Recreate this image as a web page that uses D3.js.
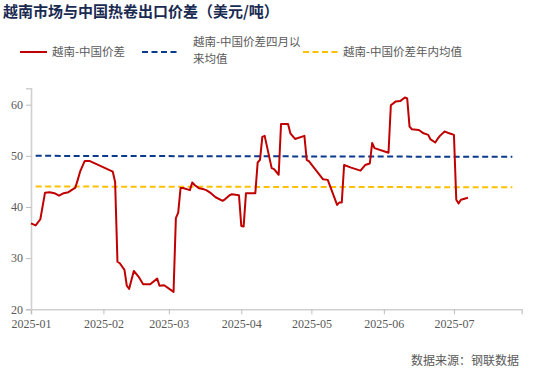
<!DOCTYPE html>
<html>
<head>
<meta charset="utf-8">
<script src="https://cdn.jsdelivr.net/npm/d3@7"></script>
<style>
    body { margin: 0; background: #fff; }
    svg { display: block; }
</style>
</head>
<body>
<div id="chart"></div>
<script>
// Vietnam - China HRC export price spread (USD/t)
const dates = [
    '2025-01-01', '2025-01-03', '2025-01-05', '2025-01-07', '2025-01-09', '2025-01-11',
    '2025-01-13', '2025-01-15', '2025-01-17', '2025-01-20', '2025-01-21', '2025-01-22',
    '2025-01-24', '2025-01-26', '2025-02-05', '2025-02-06', '2025-02-07', '2025-02-08',
    '2025-02-10', '2025-02-11', '2025-02-12', '2025-02-14', '2025-02-16', '2025-02-18',
    '2025-02-21', '2025-02-24', '2025-02-25', '2025-02-27', '2025-03-03', '2025-03-04',
    '2025-03-05', '2025-03-06', '2025-03-07', '2025-03-10', '2025-03-11', '2025-03-12',
    '2025-03-14', '2025-03-16', '2025-03-17', '2025-03-19', '2025-03-21', '2025-03-24',
    '2025-03-25', '2025-03-27', '2025-03-28', '2025-03-31', '2025-04-01', '2025-04-02',
    '2025-04-03', '2025-04-07', '2025-04-08', '2025-04-09', '2025-04-10', '2025-04-11',
    '2025-04-14', '2025-04-15', '2025-04-17', '2025-04-18', '2025-04-21', '2025-04-22',
    '2025-04-24', '2025-04-28', '2025-04-29', '2025-04-30', '2025-05-06', '2025-05-08',
    '2025-05-12', '2025-05-13', '2025-05-14', '2025-05-15', '2025-05-18', '2025-05-22',
    '2025-05-24', '2025-05-26', '2025-05-27', '2025-05-28', '2025-06-03', '2025-06-04',
    '2025-06-06', '2025-06-08', '2025-06-10', '2025-06-11', '2025-06-12', '2025-06-13',
    '2025-06-16', '2025-06-18', '2025-06-20', '2025-06-21', '2025-06-23', '2025-06-24',
    '2025-06-25', '2025-06-27', '2025-06-29', '2025-07-01', '2025-07-02', '2025-07-03',
    '2025-07-04', '2025-07-07'
];
const spread = [
    36.8, 36.4, 37.6, 42.8, 42.9, 42.7,
    42.2, 42.7, 42.9, 43.8, 45.3, 46.9,
    49.0, 49.0, 46.9, 44.9, 29.3, 29.0,
    27.7, 24.6, 24.0, 27.5, 26.4, 24.9,
    24.9, 26.0, 24.6, 24.7, 23.4, 37.8,
    38.9, 43.7, 43.7, 43.3, 44.8, 44.3,
    43.65, 43.45, 43.3, 42.7, 41.9, 41.2,
    41.5, 42.3, 42.5, 42.3, 36.3, 36.2,
    42.7, 42.7, 48.7, 49.2, 53.7, 53.9,
    47.6, 47.4, 46.3, 56.2, 56.2, 54.4,
    53.3, 53.9, 49.2, 48.9, 45.4, 45.3,
    40.4, 40.9, 40.9, 48.2, 47.7, 47.1,
    48.2, 48.5, 52.5, 51.5, 50.6, 59.9,
    60.6, 60.7, 61.4, 61.2, 55.7, 55.2,
    55.05, 54.4, 54.1, 53.2, 52.6, 53.3,
    53.9, 54.75, 54.4, 54.1, 41.4, 40.7,
    41.4, 41.8
];

// reference lines: mean since April, mean of the year
const meanDates = ['2025-01-03', '2025-07-26'];
const aprilMean = [50.0, 49.8];
const yearMean = [44.0, 43.85];

const yTicks = [20, 30, 40, 50, 60];
const xTickMonths = ['2025-01', '2025-02', '2025-03', '2025-04', '2025-05', '2025-06', '2025-07'];

const seriesNames = ['越南-中国价差', '越南-中国价差四月以来均值', '越南-中国价差年内均值'];

const width = 550, height = 370;
const parseDay = d3.timeParse('%Y-%m-%d');
const parseMonth = d3.timeParse('%Y-%m');

const svg = d3.select('#chart')
    .append('svg')
    .attr('width', width)
    .attr('height', height);

// Scales
const x = d3.scaleTime()
    .domain([parseDay('2025-01-01'), parseDay('2025-07-30')])
    .range([31, 521.7]);
const y = d3.scaleLinear()
    .domain([20, 63.2])
    .range([309.3, 88.3]);

// Title
svg.append('text')
    .attr('x', 3)
    .attr('y', 17)
    .style('font-family', '"Noto Sans CJK SC", sans-serif')
    .style('font-size', '15px')
    .style('font-weight', 'bold')
    .style('fill', '#1a2b52')
    .text('越南市场与中国热卷出口价差（美元/吨）');

// Axes
const axisColor = '#d0d0d0';
const tickColor = '#595959';

const xAxis = svg.append('g')
    .attr('transform', `translate(0,${y(20)})`)
    .call(d3.axisBottom(x)
        .tickValues(xTickMonths.map(parseMonth))
        .tickFormat(d3.timeFormat('%Y-%m'))
        .tickSizeOuter(0)
        .tickSize(5));

const yAxis = svg.append('g')
    .attr('transform', `translate(${x.range()[0]},0)`)
    .call(d3.axisLeft(y)
        .tickValues(yTicks)
        .tickSizeOuter(0)
        .tickSize(5));

[xAxis, yAxis].forEach(a => {
    a.select('.domain').attr('stroke', axisColor).attr('stroke-width', 1.6);
    a.selectAll('.tick line').attr('stroke', '#bdbdbd');
    a.selectAll('.tick text')
        .style('font-family', '"Liberation Serif", serif')
        .style('font-size', '12px')
        .style('fill', tickColor);
});
xAxis.selectAll('.tick text').attr('dy', '0.9em');
yAxis.selectAll('.tick text').attr('x', -8);

// Mean lines
const line = d3.line()
    .x(d => x(d[0]))
    .y(d => y(d[1]));

svg.append('path')
    .datum(meanDates.map((d, i) => [parseDay(d), aprilMean[i]]))
    .attr('d', line)
    .attr('fill', 'none')
    .attr('stroke', '#0a3a8c')
    .attr('stroke-width', 2)
    .attr('stroke-dasharray', '6,3.5');

svg.append('path')
    .datum(meanDates.map((d, i) => [parseDay(d), yearMean[i]]))
    .attr('d', line)
    .attr('fill', 'none')
    .attr('stroke', '#ffc000')
    .attr('stroke-width', 2)
    .attr('stroke-dasharray', '6,3.5');

// Spread line
svg.append('path')
    .datum(dates.map((d, i) => [parseDay(d), spread[i]]))
    .attr('d', line)
    .attr('fill', 'none')
    .attr('stroke', '#c00000')
    .attr('stroke-width', 2)
    .attr('stroke-linejoin', 'round');

// Legend
const legend = svg.append('g')
    .style('font-family', '"Noto Sans CJK SC", sans-serif')
    .style('font-size', '11.5px')
    .style('fill', '#595959');

const legendY = 52;

legend.append('line')
    .attr('x1', 20).attr('x2', 47)
    .attr('y1', legendY).attr('y2', legendY)
    .attr('stroke', '#c00000').attr('stroke-width', 2);
legend.append('text')
    .attr('x', 52).attr('y', legendY + 4)
    .text(seriesNames[0]);

legend.append('line')
    .attr('x1', 142).attr('x2', 180)
    .attr('y1', legendY).attr('y2', legendY)
    .attr('stroke', '#0a3a8c').attr('stroke-width', 2)
    .attr('stroke-dasharray', '6,3.5');
legend.append('text')
    .attr('x', 193).attr('y', legendY - 6)
    .text(seriesNames[1].slice(0, 10));
legend.append('text')
    .attr('x', 193).attr('y', legendY + 11)
    .text(seriesNames[1].slice(10));

legend.append('line')
    .attr('x1', 303).attr('x2', 340)
    .attr('y1', legendY).attr('y2', legendY)
    .attr('stroke', '#ffc000').attr('stroke-width', 2)
    .attr('stroke-dasharray', '6,3.5');
legend.append('text')
    .attr('x', 343).attr('y', legendY + 4)
    .text(seriesNames[2]);

// Source note
svg.append('text')
    .attr('x', 519)
    .attr('y', 365)
    .attr('text-anchor', 'end')
    .style('font-family', '"Noto Sans CJK SC", sans-serif')
    .style('font-size', '12px')
    .style('fill', '#595959')
    .text('数据来源：钢联数据');
</script>
</body>
</html>
